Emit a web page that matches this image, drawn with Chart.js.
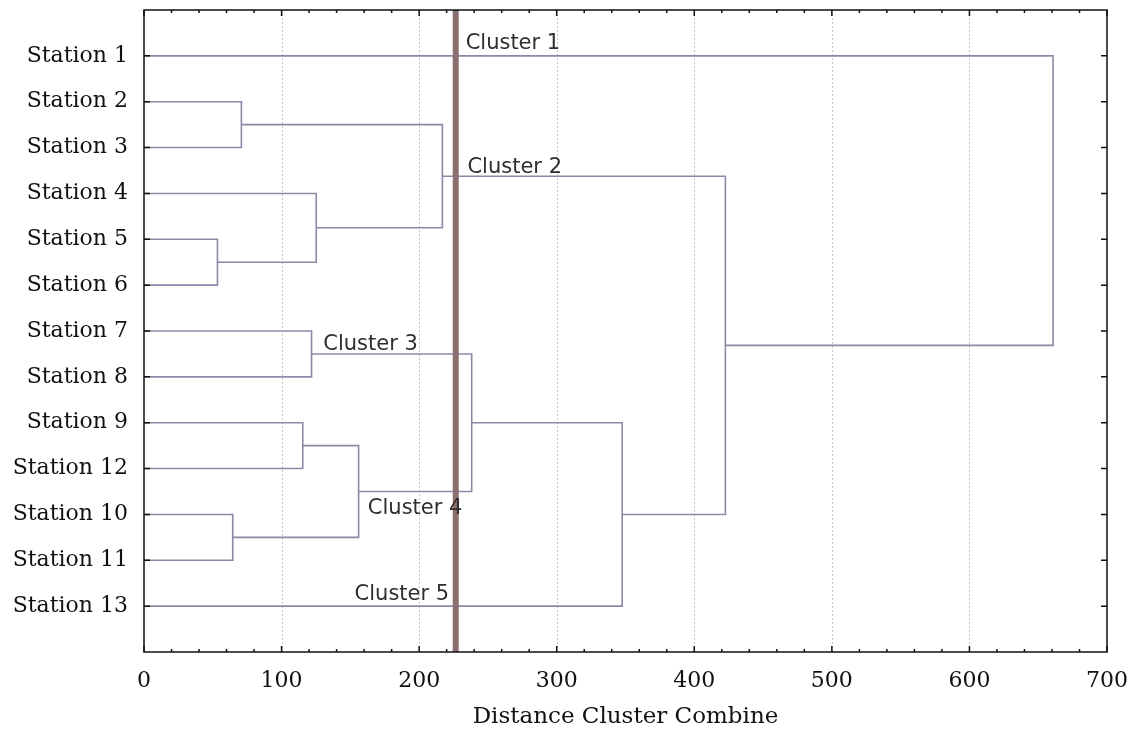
<!DOCTYPE html>
<html>
<head>
<meta charset="utf-8">
<script src="https://cdn.jsdelivr.net/npm/chart.js@4.4.1/dist/chart.umd.min.js"></script>
<style>
  html, body { margin: 0; padding: 0; background: #fff; }
  #wrap { width: 1129px; height: 730px; }
</style>
</head>
<body>
<div id="wrap"><canvas id="dendro"></canvas></div>
<script>
// leaf order top to bottom
const stations = ['Station 1','Station 2','Station 3','Station 4','Station 5','Station 6',
  'Station 7','Station 8','Station 9','Station 12','Station 10','Station 11','Station 13'];

// merges: leaves are 0..12, merge k creates node 13+k
const mergeLeft     = [1, 4, 3, 13, 6, 8, 10, 18, 17, 21, 16, 0];
const mergeRight    = [2, 5, 14, 15, 7, 9, 11, 19, 20, 12, 22, 23];
const mergeDistance = [70.8, 53.4, 125.2, 216.9, 121.8, 115.4, 64.5, 156, 238.2, 347.6, 422.6, 660.8];

const cutDistance = 226.6;
const xTicks = [0, 100, 200, 300, 400, 500, 600, 700];

// cluster annotations (left x, baseline y in data units)
const clusterNames = ['Cluster 1','Cluster 2','Cluster 3','Cluster 4','Cluster 5'];
const clusterX = [233.8, 235.1, 130.3, 162.7, 153.1];
const clusterY = [-0.15, 2.55, 6.42, 10.0, 11.86];

const LINK = '#8a8aa8';
const CUT = '#8b6e6e';

// node positions
const nodeY = stations.map((s, i) => i);
const nodeH = stations.map(() => 0);
const links = [];
mergeLeft.forEach((a, k) => {
  const b = mergeRight[k], d = mergeDistance[k];
  links.push({
    data: [{x: nodeH[a], y: nodeY[a]}, {x: d, y: nodeY[a]}, {x: d, y: nodeY[b]}, {x: nodeH[b], y: nodeY[b]}],
    borderColor: LINK, borderWidth: 1.6, showLine: true, pointRadius: 0, fill: false, order: 2
  });
  nodeY.push((nodeY[a] + nodeY[b]) / 2);
  nodeH.push(d);
});

const cutLine = {
  data: [{x: cutDistance, y: -1}, {x: cutDistance, y: 13}],
  borderColor: CUT, borderWidth: 6, showLine: true, pointRadius: 0, fill: false, order: 0
};

// dotted grid, frame, inward ticks, cluster labels
const frame = {
  id: 'frame',
  beforeDatasetsDraw(chart) {
    const {ctx, chartArea: a, scales: {x}} = chart;
    ctx.save();
    ctx.strokeStyle = '#c4c4c4';
    ctx.lineWidth = 1;
    ctx.setLineDash([2, 2]);
    xTicks.slice(1, -1).forEach(v => {
      const px = Math.round(x.getPixelForValue(v)) + 0.5;
      ctx.beginPath(); ctx.moveTo(px, a.top); ctx.lineTo(px, a.bottom); ctx.stroke();
    });
    ctx.restore();
  },
  afterDraw(chart) {
    const {ctx, chartArea: a, scales: {x, y}} = chart;
    ctx.save();
    ctx.strokeStyle = '#111';
    ctx.lineWidth = 1.5;
    ctx.strokeRect(a.left, a.top, a.right - a.left, a.bottom - a.top);
    ctx.beginPath();
    for (let v = 0; v <= 700; v += 20) {
      const px = x.getPixelForValue(v);
      const len = v % 100 === 0 ? 6 : 3;
      ctx.moveTo(px, a.bottom); ctx.lineTo(px, a.bottom - len);
      ctx.moveTo(px, a.top); ctx.lineTo(px, a.top + len);
    }
    stations.forEach((s, i) => {
      const py = y.getPixelForValue(i);
      ctx.moveTo(a.left, py); ctx.lineTo(a.left + 6, py);
      ctx.moveTo(a.right, py); ctx.lineTo(a.right - 6, py);
    });
    ctx.stroke();

    ctx.fillStyle = '#2e2e2e';
    ctx.font = '21px "DejaVu Sans"';
    ctx.textAlign = 'left';
    ctx.textBaseline = 'alphabetic';
    clusterNames.forEach((n, i) => {
      ctx.fillText(n, x.getPixelForValue(clusterX[i]), y.getPixelForValue(clusterY[i]));
    });
    ctx.restore();
  }
};

new Chart(document.getElementById('dendro'), {
  type: 'scatter',
  data: {datasets: [cutLine, ...links]},
  options: {
    responsive: true,
    maintainAspectRatio: false,
    animation: false,
    layout: {padding: {top: 10, right: 22, bottom: 0, left: 0}},
    plugins: {legend: {display: false}, tooltip: {enabled: false}},
    scales: {
      x: {
        type: 'linear', min: 0, max: 700,
        afterBuildTicks: s => { s.ticks = xTicks.map(v => ({value: v})); },
        afterFit: s => { s.height = 78; s.paddingLeft = 0; s.paddingRight = 0; },
        grid: {display: false, drawTicks: false},
        border: {display: false},
        ticks: {color: '#111', padding: 16, font: {family: '"DejaVu Serif"', size: 22}},
        title: {display: true, text: 'Distance Cluster Combine', color: '#111',
          padding: {top: 0, bottom: 0}, font: {family: '"DejaVu Serif"', size: 23, lineHeight: 1.1}}
      },
      y: {
        type: 'linear', min: -1, max: 13, reverse: true,
        afterBuildTicks: s => { s.ticks = stations.map((n, i) => ({value: i})); },
        afterFit: s => { s.width = 144; s.paddingTop = 0; s.paddingBottom = 0; },
        grid: {display: false, drawTicks: false},
        border: {display: false},
        ticks: {color: '#111', padding: 16, font: {family: '"DejaVu Serif"', size: 22},
          callback: v => stations[v]}
      }
    }
  },
  plugins: [frame]
});
</script>
</body>
</html>
